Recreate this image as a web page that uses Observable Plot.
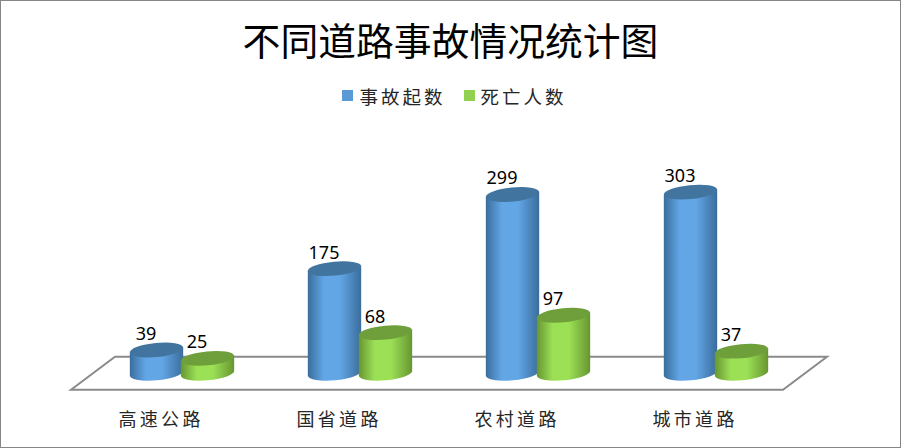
<!DOCTYPE html>
<html lang="zh">
<head>
<meta charset="utf-8">
<script src="https://cdn.jsdelivr.net/npm/d3@7"></script>
<script src="https://cdn.jsdelivr.net/npm/@observablehq/plot@0.6"></script>
<style>
  html, body { margin: 0; padding: 0; background: #fff; overflow: hidden; }
  #chart { position: relative; width: 901px; height: 448px; overflow: hidden; font-family: "Noto Sans CJK SC", sans-serif; color: #000; }
  #chart::after { content: ""; position: absolute; inset: 0; border: 1px solid #868686; box-sizing: border-box; pointer-events: none; }
  #title { height: 76px; padding-top: 13px; box-sizing: border-box; text-align: center; font-size: 37.8px; line-height: 52px; font-weight: 400; }
  #legend { height: 39px; padding-left: 8px; box-sizing: border-box; display: flex; justify-content: center; align-items: center; gap: 18px; font-size: 18.5px; letter-spacing: 3px; color: #262626; }
  #legend .item { display: flex; align-items: center; gap: 6px; }
  #legend .sw { width: 11px; height: 11px; display: block; }
  svg { display: block; background: transparent !important; }
  [aria-label="x-axis tick label"] text { letter-spacing: 3.3px; }
</style>
</head>
<body>
<div id="chart">
  <div id="title"></div>
  <div id="legend"></div>
</div>
<script>
const chartTitle = "不同道路事故情况统计图";
const categories = ["高速公路", "国省道路", "农村道路", "城市道路"];
const seriesNames = ["事故起数", "死亡人数"];
const accidents = [39, 175, 299, 303];
const deaths = [25, 68, 97, 37];

const y0px = 258.3, pxPerUnit = 0.598;
const looks = [
  {values: accidents, name: seriesNames[0], legend: "#5B9BD5", mid: "#62A6E6", edge: "#3A6D9C", top: "#41749F", offset: -25.5},
  {values: deaths, name: seriesNames[1], legend: "#92D050", mid: "#9CE056", edge: "#679631", top: "#6E9F3A", offset: 25.5}
];

document.getElementById("title").textContent = chartTitle;
const legend = d3.select("#legend");
for (const s of looks) {
  const item = legend.append("div").attr("class", "item");
  item.append("span").attr("class", "sw").style("background", s.legend);
  item.append("span").text(s.name);
}

const rx = 26.8, ry = 7, tilt = -5.5;
const ax = rx * Math.cos(tilt * Math.PI / 180), ay = rx * Math.sin(tilt * Math.PI / 180);

function band(scales) {
  const b = scales.x.bandwidth;
  return typeof b === "function" ? b() : b;
}

function floorMark(index, scales) {
  const x0 = scales.x(categories[0]);
  const x1 = scales.x(categories[categories.length - 1]) + band(scales);
  const yb = scales.y(0), d = 16.5, s = 22;
  return d3.create("svg:path")
    .attr("d", `M${x0 - s},${yb + d}L${x0 + s},${yb - d}L${x1 + s},${yb - d}L${x1 - s},${yb + d}Z`)
    .attr("fill", "#fff").attr("stroke", "#8A8A8A").attr("stroke-width", 2)
    .node();
}

function cylinders(s, k) {
  const rows = categories.map((c, i) => ({cat: c, value: s.values[i]}));
  return Plot.barY(rows, {
    x: "cat", y: "value",
    render(index, scales) {
      const g = d3.create("svg:g");
      const id = "cyl" + k;
      const grad = g.append("defs").append("linearGradient").attr("id", id)
        .attr("x1", 0).attr("x2", 1).attr("y1", 0).attr("y2", 0);
      [[0, s.edge], [0.3, s.mid], [0.6, s.mid], [1, s.edge]].forEach(([o, c]) =>
        grad.append("stop").attr("offset", o).attr("stop-color", c));
      const bw = band(scales);
      for (const r of rows) {
        const cx = scales.x(r.cat) + bw / 2 + s.offset;
        const yt = scales.y(r.value), yb = scales.y(0);
        g.append("path")
          .attr("d", `M${cx - ax},${yt - ay}L${cx - ax},${yb - ay}A${rx},${ry} ${tilt} 0 0 ${cx + ax},${yb + ay}L${cx + ax},${yt + ay}Z`)
          .attr("fill", `url(#${id})`);
        g.append("ellipse")
          .attr("rx", rx).attr("ry", ry)
          .attr("transform", `translate(${cx},${yt}) rotate(${tilt})`)
          .attr("fill", s.top);
      }
      return g.node();
    }
  });
}

function labels(s) {
  const rows = categories.map((c, i) => ({cat: c, value: s.values[i]}));
  return Plot.text(rows, {
    x: "cat", y: "value", text: d => String(d.value),
    dx: s.offset - 11, dy: -10.5, lineAnchor: "bottom", fontSize: 18, fill: "#000",
    fontFamily: "'Noto Sans', sans-serif"
  });
}

const plot = Plot.plot({
  width: 901,
  height: 333,
  marginTop: 0, marginRight: 0, marginBottom: 38, marginLeft: 0,
  style: {background: "transparent", overflow: "visible", fontFamily: "'Noto Sans CJK SC', sans-serif"},
  x: {type: "band", domain: categories, range: [93, 805], padding: 0, label: null},
  y: {domain: [0, 100], range: [y0px, y0px - 100 * pxPerUnit], axis: null},
  marks: [
    floorMark,
    ...looks.map(cylinders),
    ...looks.map(labels),
    Plot.axisX({anchor: "bottom", tickSize: 0, tickPadding: 3, dx: -21.4, fontSize: 18, fill: "#262626", label: null})
  ]
});
document.getElementById("chart").appendChild(plot);
</script>
</body>
</html>
